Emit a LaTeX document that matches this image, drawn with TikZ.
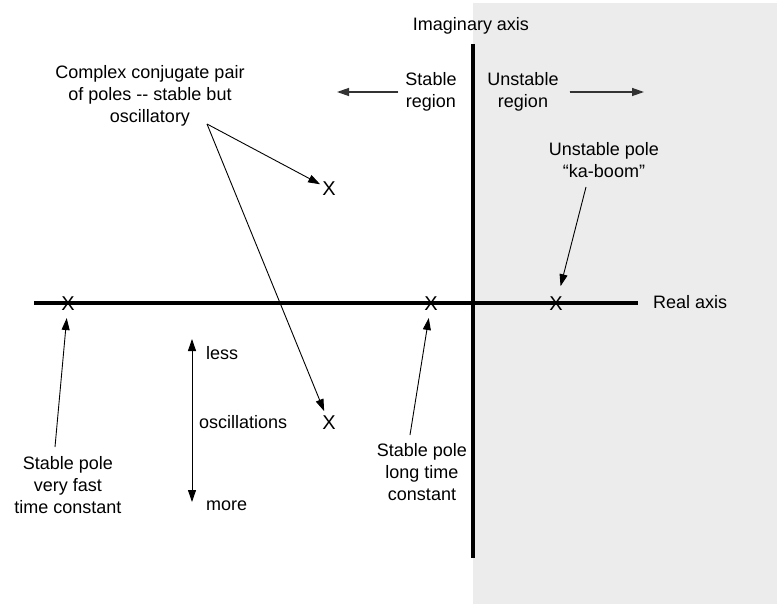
\documentclass[tikz,border=0pt]{standalone}
\usepackage{fontspec}
\setmainfont{Liberation Sans}
\usetikzlibrary{arrows.meta}
\definecolor{bggray}{HTML}{ECECEC}
\definecolor{arrgray}{HTML}{333333}
\begin{document}
\begin{tikzpicture}[x=1pt,y=-1pt,
  every node/.style={inner sep=0pt, font=\fontsize{18}{21.7}\selectfont, align=center},
  pole/.style={inner sep=2pt, font=\fontsize{20}{24}\selectfont},
  ptr/.style={-{Triangle[length=12pt,width=8pt]}, line width=0.9pt},
  gptr/.style={-{Triangle[length=12pt,width=8pt]}, line width=1.3pt, draw=arrgray, fill=arrgray},
  axisline/.style={line width=4pt}]
\useasboundingbox (0,0) rectangle (777,604);
\fill[bggray] (473,3) rectangle (777,604);
% axes
\coordinate (itop) at (473,44);
\coordinate (ibot) at (473,558);
\coordinate (rleft) at (34,303);
\coordinate (rright) at (638,303);
\draw[axisline] (itop) -- (ibot);
\draw[axisline] (rleft) -- (rright);
% labels
\node (imag) at (471,26) {Imaginary axis};
\node[anchor=west] (real) at (653,302) {Real axis};
\node (complex) at (150,96) {Complex conjugate pair\\of poles {-}{-} stable but\\oscillatory};
\node (stable) at (431,92) {Stable\\region};
\node (unstable) at (523,92) {Unstable\\region};
\node (kaboom) at (604,160) {Unstable pole\\“ka-boom”};
\node (fast) at (68,485) {Stable pole\\very fast\\time constant};
\node (long) at (422,472) {Stable pole\\long time\\constant};
\node[anchor=base west] (less) at (206,359.5) {less};
\node[anchor=base west] (osc) at (199,428.5) {oscillations};
\node[anchor=base west] (more) at (206,510.5) {more};
% poles
\node[pole] (p1) at (68,304) {X};
\node[pole] (p2) at (431,304) {X};
\node[pole] (p3) at (556,304) {X};
\node[pole] (cu) at (329,189) {X};
\node[pole] (cl) at (329,423) {X};
% connectors
\coordinate (apex) at (207,124);
\draw[ptr] (apex) -- (cu);
\draw[ptr, shorten >=3pt] (apex) -- (cl);
\coordinate (fs) at (55,447);
\draw[ptr, shorten >=5pt] (fs) -- (p1);
\coordinate (ls) at (410,435);
\draw[ptr, shorten >=5pt] (ls) -- (p2);
\coordinate (ks) at (586,187);
\draw[ptr, shorten >=9pt] (ks) -- (p3);
\coordinate (ltip) at (337,92);
\coordinate (rtip) at (644,92);
\draw[gptr, shorten <=7pt] (stable.west) -- (ltip);
\draw[gptr, shorten <=11pt] (unstable.east) -- (rtip);
\coordinate (oscup) at (192,339);
\coordinate (oscdn) at (192,502);
\draw[ptr, {Triangle[length=12pt,width=8pt]}-{Triangle[length=12pt,width=8pt]}] (oscup) -- (oscdn);
\end{tikzpicture}
\end{document}
